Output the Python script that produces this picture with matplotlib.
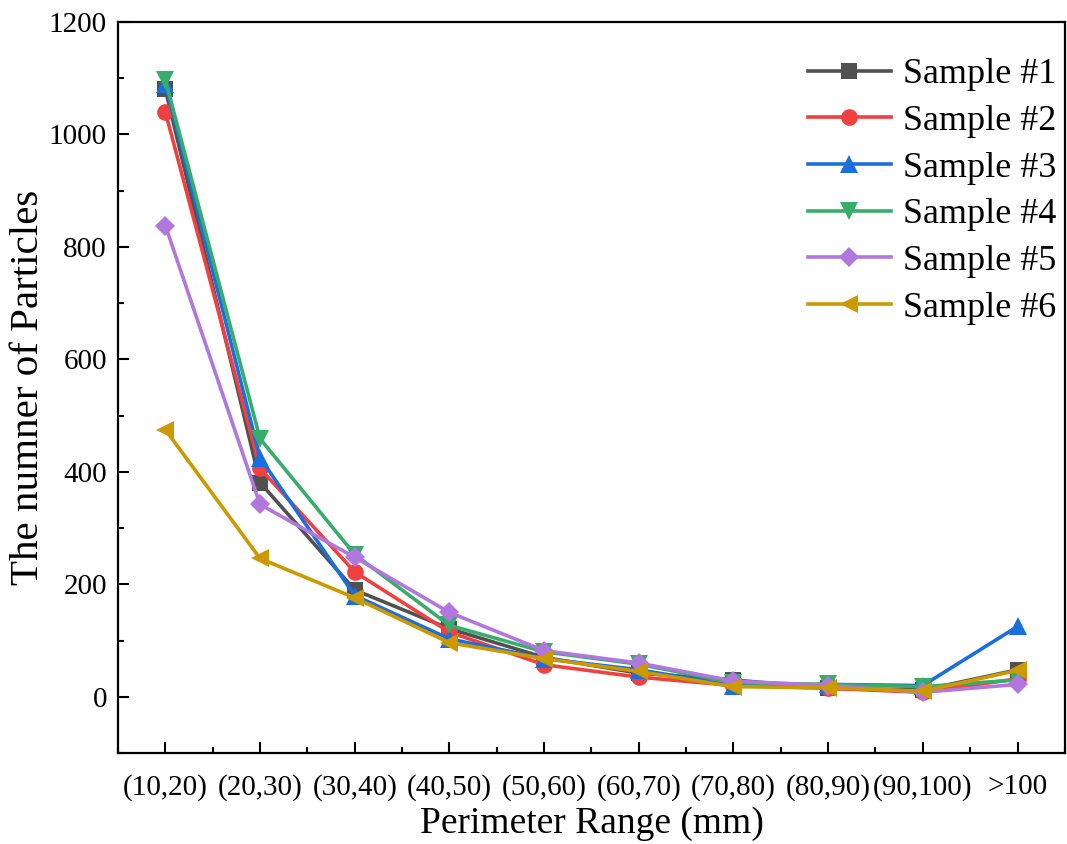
import matplotlib
matplotlib.use("Agg")
import matplotlib.pyplot as plt
from matplotlib.ticker import MultipleLocator, FixedLocator

# Perimeter bins and particle counts per sample
categories = ["(10,20)", "(20,30)", "(30,40)", "(40,50)", "(50,60)",
              "(60,70)", "(70,80)", "(80,90)", "(90,100)", ">100"]
sample1 = [1080, 381, 190, 121, 70, 42, 30, 15, 12, 48]
sample2 = [1040, 406, 222, 115, 57, 35, 20, 15, 8, 32]
sample3 = [1090, 425, 180, 103, 68, 48, 20, 22, 20, 125]
sample4 = [1097, 459, 253, 127, 80, 58, 25, 22, 18, 30]
sample5 = [838, 342, 248, 150, 82, 60, 28, 20, 8, 22]
sample6 = [475, 246, 176, 96, 68, 45, 18, 16, 10, 47]

series = [
    ("Sample #1", sample1, "#515151", "s", 11),
    ("Sample #2", sample2, "#F14040", "o", 12),
    ("Sample #3", sample3, "#1A6FDF", "^", 13),
    ("Sample #4", sample4, "#37AD6B", "v", 13),
    ("Sample #5", sample5, "#B177DE", "D", 10),
    ("Sample #6", sample6, "#CC9900", "<", 13),
]

plt.rcParams["font.family"] = ["Liberation Serif", "DejaVu Serif"]

fig = plt.figure(figsize=(10.67, 8.44), dpi=100)
ax = fig.add_axes([0.1106, 0.1078, 0.8874, 0.8662])

x = list(range(len(categories)))
for name, vals, color, marker, ms in series:
    ax.plot(x, vals, color=color, marker=marker, markersize=ms,
            linewidth=2.6, label=name, markeredgewidth=0)

ax.set_xlim(-0.5, len(categories) - 0.5)
ax.set_ylim(-100, 1200)
ax.set_xticks(x)
ax.set_xticklabels(categories)
ax.xaxis.set_minor_locator(FixedLocator([i + 0.5 for i in range(-1, len(categories))]))
ax.yaxis.set_major_locator(MultipleLocator(200))
ax.yaxis.set_minor_locator(MultipleLocator(100))

ax.tick_params(axis="both", which="major", direction="in", length=8, width=1.5,
               labelsize=21, top=False, right=False)
ax.tick_params(axis="both", which="minor", direction="in", length=4, width=1.5,
               top=False, right=False)
ax.tick_params(axis="x", which="major", pad=15)
ax.tick_params(axis="y", which="major", pad=8)

for sp in ax.spines.values():
    sp.set_linewidth(1.6)

ax.set_xlabel("Perimeter Range (mm)", fontsize=27, labelpad=4)
ax.set_ylabel("The numner of Particles", fontsize=29.5, labelpad=1)

ax.legend(loc="upper right", bbox_to_anchor=(1.018, 0.985), frameon=False,
          fontsize=26, handlelength=2.3, handletextpad=0.35, labelspacing=0.37,
          borderpad=0.2)

fig.savefig("out.png", dpi=100)
